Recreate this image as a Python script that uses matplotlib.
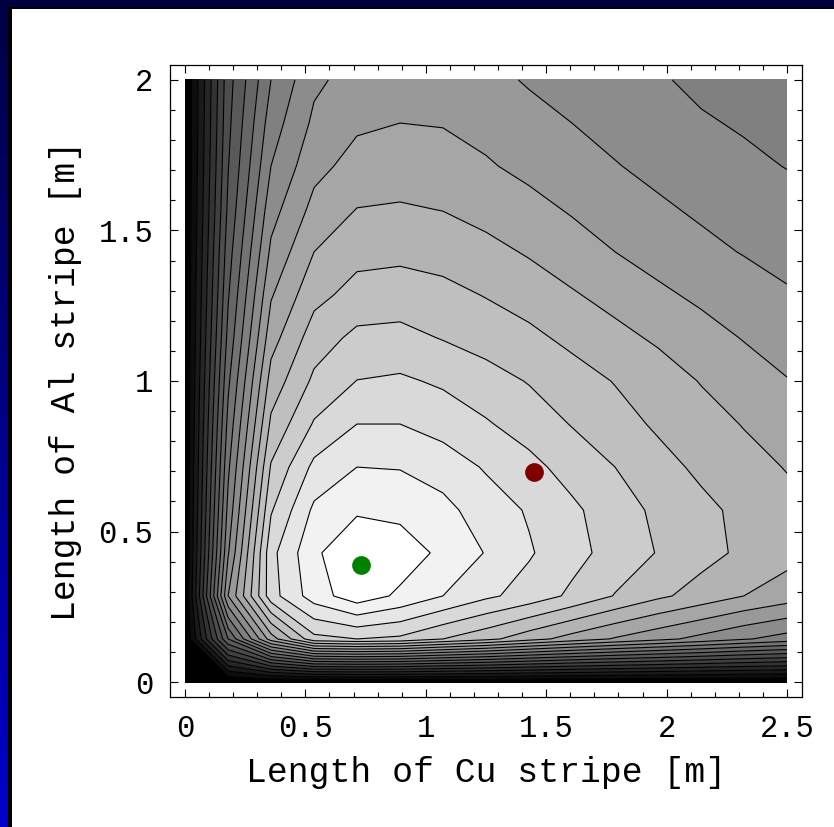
import numpy as np
import matplotlib.pyplot as plt
from matplotlib.patches import Rectangle
from matplotlib.colors import LinearSegmentedColormap
from matplotlib.ticker import MultipleLocator

# sample grid (m)
cu_len = [0.0, 0.179, 0.357, 0.536, 0.714, 0.893, 1.071, 1.25,
          1.429, 1.607, 1.786, 1.964, 2.143, 2.321, 2.5]
al_len = [0.0, 0.143, 0.286, 0.429, 0.571, 0.714, 0.857, 1.0,
          1.143, 1.286, 1.429, 1.571, 1.714, 1.857, 2.0]

# figure of merit, rows = Al length, columns = Cu length
merit = [
    [0, 0, 0, 0, 0, 0, 0, 0, 0, 0, 0, 0, 0, 0, 0],
    [0, 8.0, 13.5, 16.7, 17.0, 16.8, 16.0, 15.3, 14.4, 13.6, 12.9, 12.3, 11.7, 11.1, 10.6],
    [0, 12.0, 17.6, 19.5, 20.6, 19.8, 19.0, 18.2, 17.6, 16.8, 15.95, 15.2, 14.6, 14.0, 13.5],
    [0, 10.9, 17.7, 19.8, 20.9, 20.6, 19.75, 18.95, 18.1, 17.35, 16.6, 15.95, 15.35, 14.8, 14.35],
    [0, 10.3, 16.9, 19.2, 19.85, 19.7, 19.3, 18.5, 17.9, 17.2, 16.45, 15.8, 15.25, 14.75, 14.3],
    [0, 9.8, 16.1, 18.25, 19.0, 18.95, 18.55, 17.9, 17.3, 16.6, 16.0, 15.35, 14.8, 14.35, 13.95],
    [0, 9.3, 15.2, 17.1, 18.0, 18.0, 17.6, 17.1, 16.55, 15.95, 15.4, 14.85, 14.4, 13.95, 13.5],
    [0, 8.8, 14.4, 16.2, 17.02, 17.15, 16.85, 16.4, 15.94, 15.45, 14.95, 14.5, 13.95, 13.5, 13.05],
    [0, 8.3, 13.6, 15.5, 16.25, 16.3, 15.95, 15.6, 15.25, 14.75, 14.3, 13.85, 13.4, 12.95, 12.5],
    [0, 7.9, 12.9, 14.7, 15.35, 15.5, 15.3, 14.95, 14.55, 14.1, 13.65, 13.2, 12.8, 12.45, 12.1],
    [0, 7.55, 12.2, 14.0, 14.7, 14.75, 14.6, 14.3, 13.9, 13.45, 13.0, 12.6, 12.25, 11.95, 11.7],
    [0, 7.2, 11.6, 13.3, 14.02, 14.1, 13.97, 13.65, 13.3, 12.9, 12.55, 12.15, 11.85, 11.6, 11.35],
    [0, 6.95, 11.0, 12.7, 13.35, 13.5, 13.4, 13.1, 12.75, 12.4, 12.05, 11.75, 11.45, 11.2, 10.97],
    [0, 6.75, 10.5, 12.2, 12.85, 13.0, 12.95, 12.7, 12.35, 12.0, 11.7, 11.4, 11.1, 10.9, 10.7],
    [0, 6.6, 10.0, 11.8, 12.4, 12.6, 12.55, 12.3, 11.9, 11.6, 11.35, 11.1, 10.8, 10.6, 10.4],
]

line_levels = [1, 2, 3, 4, 5, 6, 7, 8, 9, 10, 11, 12, 13, 14, 15, 16, 17, 18, 19, 20]
fill_levels = [-1] + line_levels + [25]
grays = [str(k / 20) for k in range(21)]

# optimum and chosen design points
best_cu, best_al = 0.73, 0.388
chosen_cu, chosen_al = 1.449, 0.698

fig = plt.figure(figsize=(8.34, 8.27), dpi=100)

# slide-style background frame
bg = fig.add_axes([0, 0, 1, 1], zorder=-5)
grad = np.linspace(0, 1, 100).reshape(-1, 1)
bg.imshow(grad, extent=[0, 8, 827, 0], aspect='auto', origin='upper',
          cmap=LinearSegmentedColormap.from_list('slide', ['#000044', '#0000cc']))
bg.add_patch(Rectangle((0, 0), 834, 7, color='#000040', lw=0))
bg.add_patch(Rectangle((8, 7), 4, 820, color='black', lw=0))
bg.add_patch(Rectangle((8, 7), 826, 2, color='black', lw=0))
bg.set_xlim(0, 834)
bg.set_ylim(827, 0)
bg.axis('off')

ax = fig.add_axes([170 / 834, 130 / 827, 632 / 834, 632 / 827])
ax.contourf(cu_len, al_len, merit, levels=fill_levels, colors=grays)
ax.contour(cu_len, al_len, merit, levels=line_levels, colors='black', linewidths=0.8)

ax.plot(best_cu, best_al, 'o', color='#008000', ms=13.5, mec='none')
ax.plot(chosen_cu, chosen_al, 'o', color='#800000', ms=13.5, mec='none')

ax.set_xlim(-0.0623, 2.5623)
ax.set_ylim(-0.0498, 2.0498)
ax.set_xticks([0, 0.5, 1, 1.5, 2, 2.5])
ax.set_xticklabels(['0', '0.5', '1', '1.5', '2', '2.5'])
ax.set_yticks([0, 0.5, 1, 1.5, 2])
ax.set_yticklabels(['0', '0.5', '1', '1.5', '2'])
ax.xaxis.set_minor_locator(MultipleLocator(0.1))
ax.yaxis.set_minor_locator(MultipleLocator(0.1))
ax.tick_params(which='both', direction='in', top=True, right=True, width=0.8)
ax.tick_params(which='major', length=6, labelsize=22, pad=12)
ax.tick_params(which='minor', length=3.5)
for lab in ax.get_xticklabels() + ax.get_yticklabels():
    lab.set_family('Liberation Mono')
for s in ax.spines.values():
    s.set_linewidth(0.9)

ax.set_xlabel('Length of Cu stripe [m]', family='Liberation Mono', fontsize=25, labelpad=9)
ax.set_ylabel('Length of Al stripe [m]', family='Liberation Mono', fontsize=25, labelpad=12)

fig.savefig('out.png', dpi=100)
